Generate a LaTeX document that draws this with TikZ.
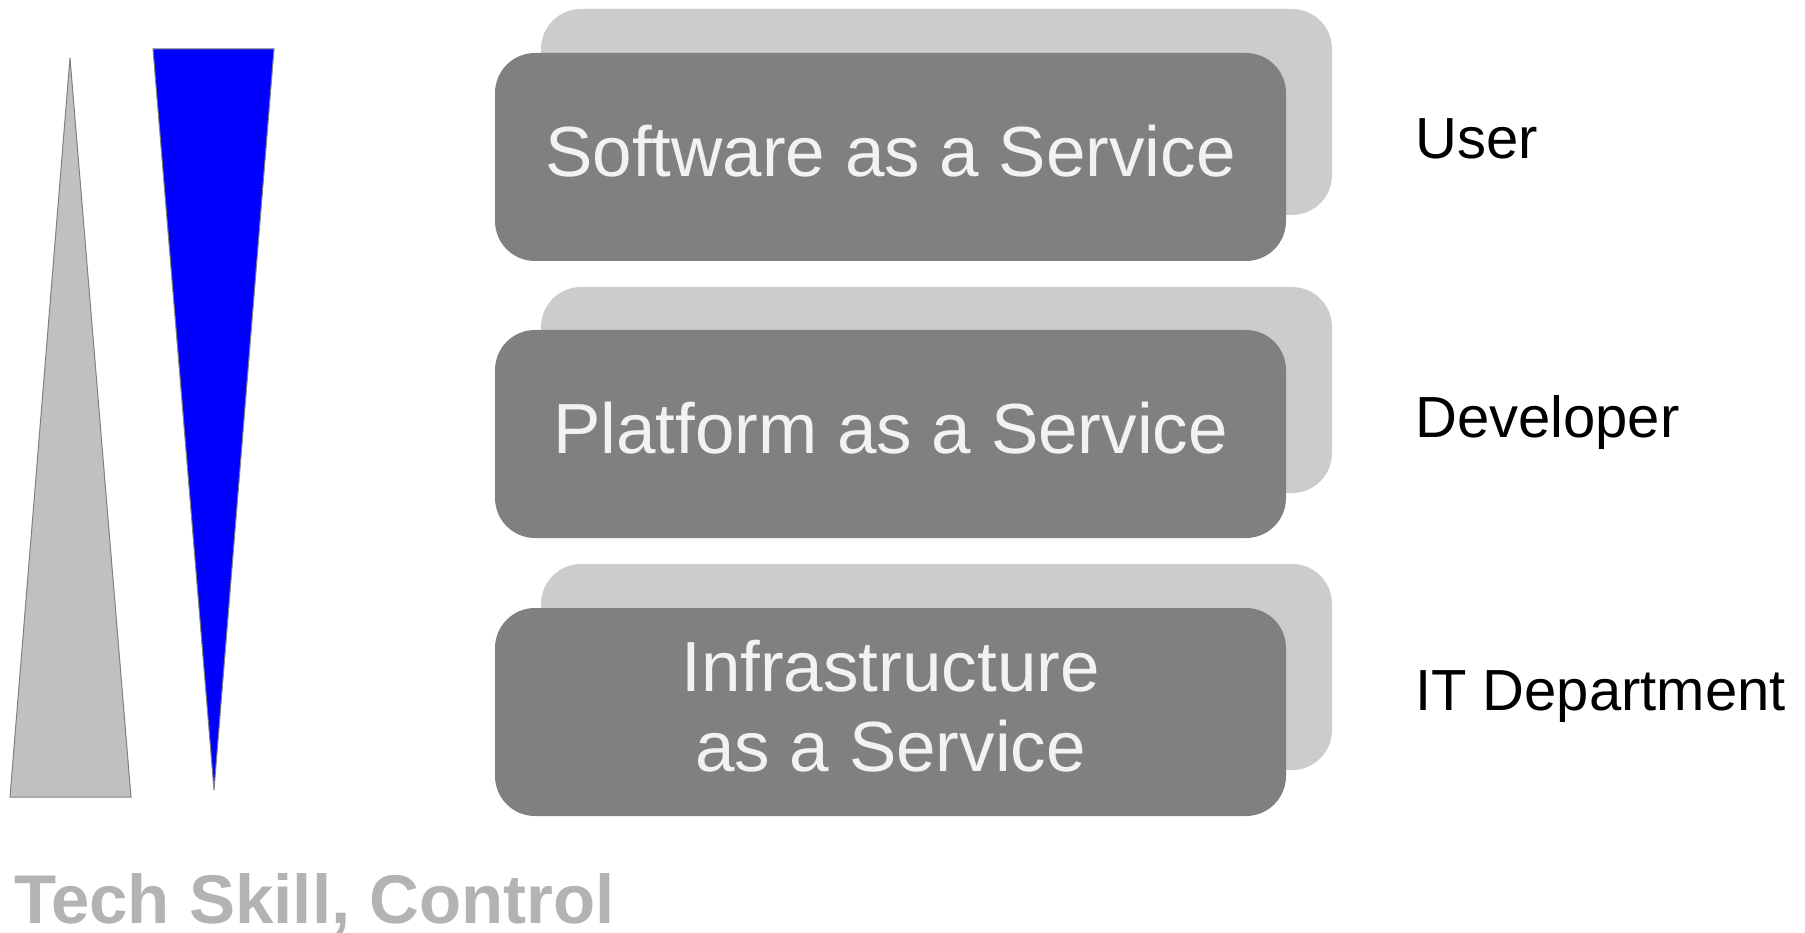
\documentclass[tikz,border=0pt]{standalone}
\usepackage{fontspec}
\setmainfont{Liberation Sans}
\usepackage{tikz}
\definecolor{boxgray}{HTML}{808080}
\definecolor{backgray}{HTML}{CCCCCC}
\definecolor{skillgray}{HTML}{B3B3B3}
\definecolor{lowgray}{HTML}{C0C0C0}
\tikzset{
    backbox/.style={rectangle, rounded corners=40pt, fill=backgray, minimum width=791pt, minimum height=206pt, inner sep=0pt},
    frontbox/.style={rectangle, rounded corners=40pt, fill=boxgray, minimum width=791pt, minimum height=208pt, inner sep=0pt,
        text=white!95!black, align=center, text depth=12pt, font=\fontsize{71}{80}\selectfont},
    rolelabel/.style={anchor=base west, inner sep=0pt, font=\fontsize{58}{64}\selectfont}}

\begin{document}
\begin{tikzpicture}[x=1pt, y=-1pt]
            \useasboundingbox (0,0) rectangle (1805,933);

                    % skill wedges
                    \draw[draw=boxgray, fill=lowgray, line width=1pt] (70,58) -- (131,797) -- (10,797) -- cycle;
                    \draw[draw=boxgray, fill=blue, line width=1pt] (153,49) -- (274,49) -- (214,790) -- cycle;

                    % service layers
                    \node[backbox] (saasback) at (936.5,112) {};
                    \node[frontbox] (saas) at (890.5,157) {Software as a Service};
                    \node[backbox] (paasback) at (936.5,390) {};
                    \node[frontbox] (paas) at (890.5,434) {Platform as a Service};
                    \node[backbox] (iaasback) at (936.5,667) {};
                    \node[frontbox] (iaas) at (890.5,712) {Infrastructure\\as a Service};

                    % who uses which layer
                    \node[rolelabel] (user) at (1415,159) {User};
                    \node[rolelabel] (dev) at (1415,437) {Developer};
                    \node[rolelabel] (itdep) at (1415,710) {IT Department};

                    \node[anchor=base west, inner sep=0pt, text=skillgray, font=\bfseries\fontsize{69}{76}\selectfont] (skill) at (14,923) {Tech Skill, Control};

                \end{tikzpicture}
\end{document}
